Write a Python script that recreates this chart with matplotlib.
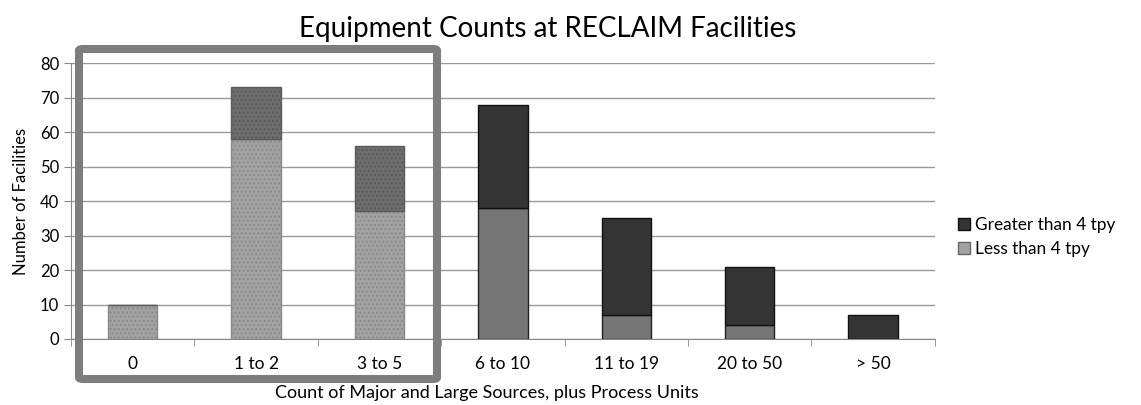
import numpy as np
import matplotlib.pyplot as plt
from matplotlib.patches import FancyBboxPatch, Patch

plt.rcParams['font.family'] = ['Lato', 'DejaVu Sans']
plt.rcParams['hatch.color'] = '#c8c8c8'

categories = ['0', '1 to 2', '3 to 5', '6 to 10', '11 to 19', '20 to 50', '> 50']
less_than_4 = [10, 58, 37, 38, 7, 4, 0]
greater_than_4 = [0, 15, 19, 30, 28, 17, 7]
highlighted = [True, True, True, False, False, False, False]

fig = plt.figure(figsize=(11.41, 4.05), dpi=100)
ax = fig.add_axes([0.0622, 0.163, 0.757, 0.681])

x = np.arange(len(categories))
w = 0.4
for i in x:
    # first three groups are drawn stippled/lighter as in the source slide
    if highlighted[i]:
        c_less, c_more, hatch = '#a2a2a2', '#6e6e6e', '....'
        e_less, e_more = '#8a8a8a', '#5a5a5a'
    else:
        c_less, c_more, hatch = '#767676', '#343434', None
        e_less, e_more = '#222222', '#111111'
    ax.bar(i, less_than_4[i], w, color=c_less, edgecolor=e_less, linewidth=1, hatch=hatch, zorder=3)
    ax.bar(i, greater_than_4[i], w, bottom=less_than_4[i], color=c_more,
           edgecolor=e_more, linewidth=1, hatch=hatch, zorder=3)

ax.set_xlim(-0.5, len(categories) - 0.5)
ax.set_ylim(0, 80)
ax.set_yticks(range(0, 81, 10))
ax.set_xticks(x)
ax.set_xticklabels(categories, fontsize=12.5)
ax.set_xticks(np.arange(-0.5, len(categories), 1), minor=True)
ax.tick_params(axis='x', which='major', length=0, pad=12)
ax.tick_params(axis='x', which='minor', length=5, color='#888888', direction='out')
ax.tick_params(axis='y', length=5, color='#888888', direction='out', labelsize=12)
ax.yaxis.grid(True, color='#999999', linewidth=1)
ax.set_axisbelow(True)
for s in ['top', 'right']:
    ax.spines[s].set_visible(False)
ax.spines['left'].set_color('#888888')
ax.spines['bottom'].set_color('#888888')

ax.set_ylabel('Number of Facilities', fontsize=12)
ax.yaxis.set_label_coords(-0.049, 0.5)
fig.text(487 / 1141, 1 - 393 / 405, 'Count of Major and Large Sources, plus Process Units',
         fontsize=13, ha='center', va='center')
fig.text(548 / 1141, 1 - 29 / 405, 'Equipment Counts at RECLAIM Facilities',
         fontsize=20, ha='center', va='center')

handles = [Patch(facecolor='#343434', edgecolor='#111111', label='Greater than 4 tpy'),
           Patch(facecolor='#a2a2a2', edgecolor='#666666', label='Less than 4 tpy')]
fig.legend(handles=handles, loc='center left', bbox_to_anchor=(0.826, 0.415), frameon=False,
           fontsize=12.4, handlelength=0.7, handleheight=0.7, handletextpad=0.3, labelspacing=0.45)

# highlight frame round the first three groups
box = FancyBboxPatch((79 / 1141, 26 / 405), 358 / 1141, 330 / 405,
                     boxstyle='round,pad=0,rounding_size=0.004', transform=fig.transFigure,
                     fill=False, edgecolor='#7d7d7d', linewidth=5.8, zorder=10)
fig.patches.append(box)

fig.savefig('out.png', dpi=100)
